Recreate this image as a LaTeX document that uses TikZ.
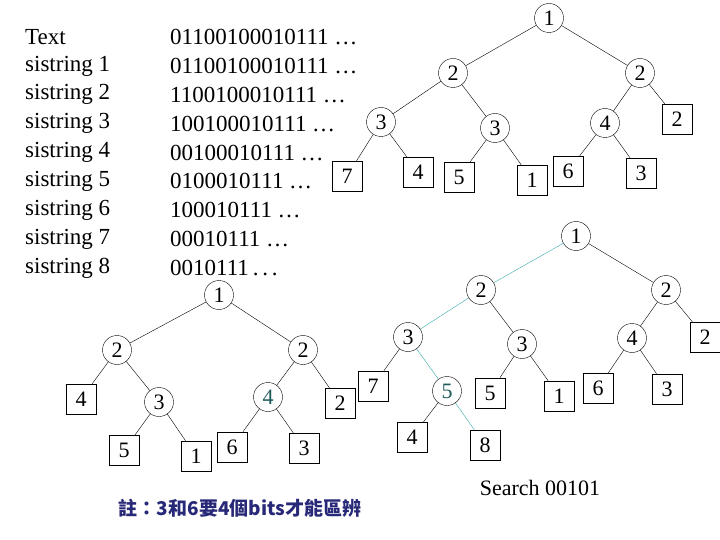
\documentclass[tikz,border=0pt]{standalone}
\usepackage{fontspec}
\setmainfont{Liberation Serif}
\newfontfamily\cjk{Noto Sans CJK TC}
\definecolor{teal1}{RGB}{60,170,170}
\definecolor{teal2}{RGB}{30,90,90}
\definecolor{navy}{RGB}{40,40,120}
\newcommand\mydots{…}
\begin{document}
\begin{tikzpicture}[x=1pt,y=-1pt,
  every node/.style={font=\fontsize{22}{26}\selectfont},
  cnode/.style={circle,draw,inner sep=0pt,minimum size=29pt},
  bnode/.style={rectangle,draw,inner sep=0pt,minimum size=30pt},
  txt/.style={anchor=west,inner sep=0pt,font=\fontsize{23}{26}\selectfont},
  hl/.style={draw=teal1}]
\useasboundingbox (0,0) rectangle (720,540);
% text list
\foreach \t/\s [count=\i from 0] in {Text/01100100010111 \mydots,sistring 1/01100100010111 \mydots,sistring 2/1100100010111 \mydots,sistring 3/100100010111 \mydots,sistring 4/00100010111 \mydots,sistring 5/0100010111 \mydots,sistring 6/100010111 \mydots,sistring 7/00010111 \mydots,sistring 8/0010111\,.\,.\,.}{
  \node[txt] (l\i) at (25,{37+28.9*\i}) {\t};
  \node[txt] (r\i) at (170,{37+28.9*\i}) {\s};
}
% top tree
\node[cnode] (a1) at (549,18) {1};
\node[cnode] (a2l) at (453,73) {2};
\node[cnode] (a2r) at (640,73) {2};
\node[cnode] (a3a) at (381,122) {3};
\node[cnode] (a3b) at (495,128) {3};
\node[cnode] (a4) at (605,123) {4};
\node[bnode] (ab2) at (677,119) {2};
\node[bnode] (ab7) at (347,176) {7};
\node[bnode] (ab4) at (418,172) {4};
\node[bnode] (ab5) at (459,177) {5};
\node[bnode] (ab1) at (532,180) {1};
\node[bnode] (ab6) at (568,171) {6};
\node[bnode] (ab3) at (641,173) {3};
\draw (a1)--(a2l) (a1)--(a2r) (a2l)--(a3a) (a2l)--(a3b) (a2r)--(a4) (a2r)--(ab2)
 (a3a)--(ab7) (a3a)--(ab4) (a3b)--(ab5) (a3b)--(ab1) (a4)--(ab6) (a4)--(ab3);
% bottom left tree
\node[cnode] (b1) at (219,295) {1};
\node[cnode] (b2l) at (117,350) {2};
\node[cnode] (b2r) at (303,350) {2};
\node[bnode] (bb4) at (81,399) {4};
\node[cnode] (b3) at (159,402) {3};
\node[cnode,text=teal2] (b4) at (268,397) {4};
\node[bnode] (bb2) at (340,403) {2};
\node[bnode] (bb5) at (124,450) {5};
\node[bnode] (bb1) at (196,456) {1};
\node[bnode] (bb6) at (232,447) {6};
\node[bnode] (bb3) at (304,448) {3};
\draw (b1)--(b2l) (b1)--(b2r) (b2l)--(bb4) (b2l)--(b3) (b2r)--(b4) (b2r)--(bb2)
 (b3)--(bb5) (b3)--(bb1) (b4)--(bb6) (b4)--(bb3);
% bottom right tree
\node[cnode] (c1) at (576,236) {1};
\node[cnode] (c2l) at (481,290) {2};
\node[cnode] (c2r) at (666,290) {2};
\node[cnode] (c3a) at (408,337) {3};
\node[cnode] (c3b) at (522,344) {3};
\node[cnode] (c4) at (632,338) {4};
\node[bnode] (cb2) at (705,337) {2};
\node[bnode] (cb7) at (373,386) {7};
\node[cnode,text=teal2] (c5) at (447,391) {5};
\node[bnode] (cb5) at (490,393) {5};
\node[bnode] (cb1) at (559,396) {1};
\node[bnode] (cb6) at (598,388) {6};
\node[bnode] (cb3) at (667,389) {3};
\node[bnode] (cb4) at (412,437) {4};
\node[bnode] (cb8) at (485,445) {8};
\draw (c1)--(c2r) (c2l)--(c3b) (c2r)--(c4) (c2r)--(cb2) (c3a)--(cb7)
 (c3b)--(cb5) (c3b)--(cb1) (c4)--(cb6) (c4)--(cb3) (c5)--(cb4);
\draw[hl] (c1)--(c2l) (c2l)--(c3a) (c3a)--(c5) (c5)--(cb8);
\node (search) at (540,488) {Search 00101};
\node[text=navy,font=\cjk\bfseries\fontsize{19}{22}\selectfont] (note) at (240,508) {註：3和6要4個bits才能區辨};
\end{tikzpicture}
\end{document}
